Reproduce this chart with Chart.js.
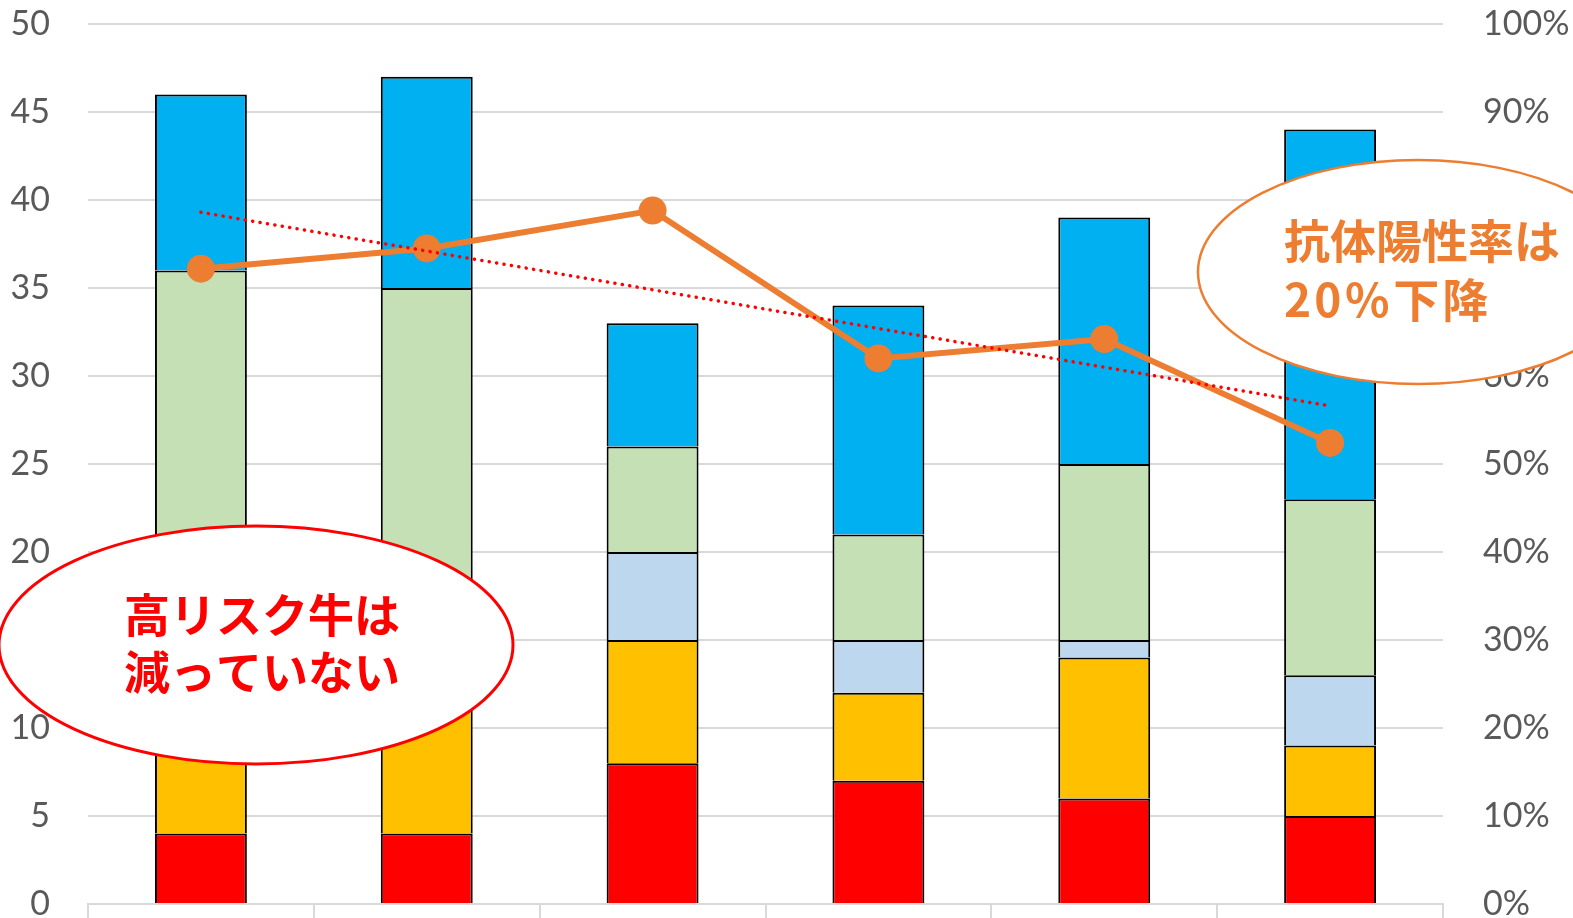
<!DOCTYPE html>
<html lang="ja">
<head>
<meta charset="utf-8">
<script src="https://cdn.jsdelivr.net/npm/chart.js@4"></script>
<style>
  html, body { margin: 0; padding: 0; background: #fff; }
  #wrap { width: 1573px; height: 918px; position: relative; }
</style>
</head>
<body>
<div id="wrap"><canvas id="chart"></canvas></div>
<script>
// Categories (no labels shown on the axis)
const categories = ['1', '2', '3', '4', '5', '6'];

// Stacked head counts, bottom to top
const redVals = [4, 4, 8, 7, 6, 5];
const orangeVals = [8, 9, 7, 5, 8, 4];
const lightBlueVals = [3, 3, 5, 3, 1, 4];
const greenVals = [21, 19, 6, 6, 10, 10];
const blueVals = [10, 12, 7, 13, 14, 21];

// Antibody positive rate (%), right axis
const rateVals = [72.2, 74.5, 78.8, 62.0, 64.2, 52.4];
// Linear trend of the rate, first and last category only
const trendVals = [78.6, null, null, null, null, 56.6];

const leftTicks = [0, 5, 10, 15, 20, 25, 30, 35, 40, 45, 50];
const rightTicks = [0, 10, 20, 30, 40, 50, 60, 70, 80, 90, 100];

const tickFont = { family: 'Lato, "Noto Sans", sans-serif', size: 34, lineHeight: 1 };
const gridColor = '#D9D9D9';

function barSet(data, color) {
  return {
    type: 'bar',
    data: data,
    backgroundColor: color,
    borderColor: '#000',
    borderWidth: 2,
    borderSkipped: 'start',
    categoryPercentage: 1,
    barPercentage: 0.407,
    yAxisID: 'y',
    order: 2
  };
}

// tick padding also pads the chart area top/bottom; drop that
function fixVertical(width) {
  return function (scale) {
    scale.width = width;
    scale.paddingTop = 0;
    scale.paddingBottom = 0;
  };
}

// callouts drawn on top of the chart
const calloutPlugin = {
  id: 'callouts',
  afterDraw(chart) {
    const ctx = chart.ctx;
    ctx.save();
    const font = 'bold 46px "Noto Sans CJK JP", sans-serif';

    ctx.beginPath();
    ctx.ellipse(256, 645, 257, 119, 0, 0, Math.PI * 2);
    ctx.fillStyle = '#fff';
    ctx.fill();
    ctx.lineWidth = 3;
    ctx.strokeStyle = '#FF0000';
    ctx.stroke();

    ctx.font = font;
    ctx.fillStyle = '#FF0000';
    ctx.textAlign = 'left';
    ctx.textBaseline = 'middle';
    ctx.fillText('高リスク牛は', 124, 615);
    ctx.fillText('減っていない', 124, 672);

    ctx.beginPath();
    ctx.ellipse(1418, 272, 220, 112, 0, 0, Math.PI * 2);
    ctx.fillStyle = '#fff';
    ctx.fill();
    ctx.lineWidth = 2.5;
    ctx.strokeStyle = '#ED7D31';
    ctx.stroke();

    ctx.fillStyle = '#ED7D31';
    ctx.fillText('抗体陽性率は', 1284, 241);
    ctx.letterSpacing = '3px';
    ctx.fillText('20％下降', 1284, 300);
    ctx.restore();
  }
};

new Chart(document.getElementById('chart'), {
  data: {
    labels: categories,
    datasets: [
      barSet(redVals, '#FF0000'),
      barSet(orangeVals, '#FFC000'),
      barSet(lightBlueVals, '#BDD7EE'),
      barSet(greenVals, '#C5E0B4'),
      barSet(blueVals, '#00B0F0'),
      {
        type: 'line',
        data: rateVals,
        yAxisID: 'y1',
        borderColor: '#ED7D31',
        borderWidth: 6,
        pointRadius: 14,
        pointBackgroundColor: '#ED7D31',
        pointBorderWidth: 0,
        tension: 0,
        order: 1
      },
      {
        type: 'line',
        data: trendVals,
        yAxisID: 'y1',
        spanGaps: true,
        borderColor: '#FF0000',
        borderWidth: 3.5,
        borderDash: [0.1, 7.4],
        borderCapStyle: 'round',
        pointRadius: 0,
        order: 0
      }
    ]
  },
  options: {
    responsive: true,
    maintainAspectRatio: false,
    animation: false,
    layout: { padding: { top: 24, left: 0, right: 0, bottom: 0 } },
    plugins: {
      legend: { display: false },
      tooltip: { enabled: false }
    },
    scales: {
      x: {
        stacked: true,
        offset: true,
        ticks: { display: false },
        grid: {
          offset: true,
          drawOnChartArea: false,
          drawTicks: true,
          tickLength: 14,
          color: gridColor,
          lineWidth: 2
        },
        border: { color: gridColor, width: 2 },
        afterFit(scale) { scale.height = 14; }
      },
      y: {
        stacked: true,
        position: 'left',
        min: 0,
        max: 50,
        afterBuildTicks(scale) { scale.ticks = leftTicks.map(v => ({ value: v })); },
        ticks: { color: '#595959', font: tickFont, padding: 38 },
        grid: { color: gridColor, lineWidth: 2, drawTicks: false },
        border: { display: false },
        afterFit: fixVertical(88)
      },
      y1: {
        position: 'right',
        min: 0,
        max: 100,
        afterBuildTicks(scale) { scale.ticks = rightTicks.map(v => ({ value: v })); },
        ticks: {
          color: '#595959',
          font: tickFont,
          padding: 40,
          callback: v => v + '%'
        },
        grid: { display: false, drawTicks: false },
        border: { display: false },
        afterFit: fixVertical(130)
      }
    }
  },
  plugins: [calloutPlugin]
});
</script>
</body>
</html>
